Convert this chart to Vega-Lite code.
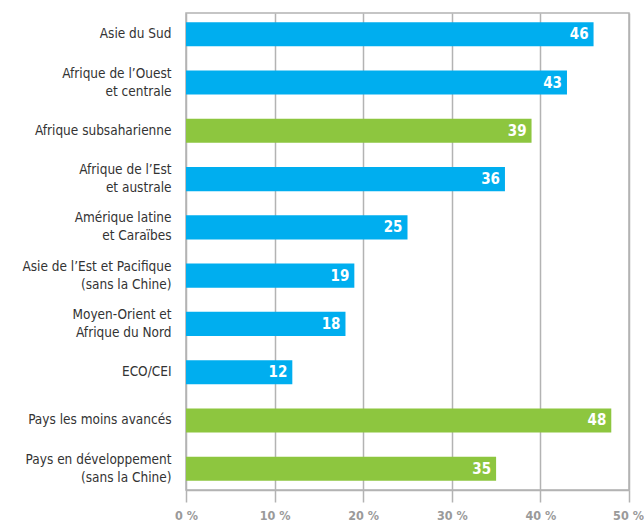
{
  "$schema": "https://vega.github.io/schema/vega-lite/v6.json",
  "autosize": {"type": "none"},
  "width": 443,
  "height": 477,
  "padding": {"left": 186, "top": 13, "right": 15, "bottom": 36},
  "background": "white",
  "config": {
    "view": {"stroke": "#b3b3b3", "strokeWidth": 1.5},
    "font": "DejaVu Sans Condensed"
  },
  "data": {
    "values": [
      {"region": "Asie du Sud", "value": 46, "group": "region"},
      {"region": "Afrique de l’Ouest|et centrale", "value": 43, "group": "region"},
      {"region": "Afrique subsaharienne", "value": 39, "group": "aggregate"},
      {"region": "Afrique de l’Est|et australe", "value": 36, "group": "region"},
      {"region": "Amérique latine|et Caraïbes", "value": 25, "group": "region"},
      {"region": "Asie de l’Est et Pacifique|(sans la Chine)", "value": 19, "group": "region"},
      {"region": "Moyen-Orient et|Afrique du Nord", "value": 18, "group": "region"},
      {"region": "ECO/CEI", "value": 12, "group": "region"},
      {"region": "Pays les moins avancés", "value": 48, "group": "aggregate"},
      {"region": "Pays en développement|(sans la Chine)", "value": 35, "group": "aggregate"}
    ]
  },
  "encoding": {
    "y": {
      "field": "region",
      "type": "nominal",
      "sort": null,
      "scale": {"paddingInner": 0.5, "paddingOuter": 0.19},
      "axis": {
        "title": null,
        "domain": false,
        "ticks": false,
        "labelExpr": "split(datum.label, '|')",
        "labelFont": "DejaVu Sans Condensed",
        "labelFontSize": 13.5,
        "labelColor": "#333333",
        "labelPadding": 15,
        "labelLineHeight": 18,
        "labelLimit": 200,
        "labelOffset": {"condition": {"test": "indexof(datum.value, '|') >= 0", "value": -9}, "value": 0}
      }
    },
    "x": {
      "field": "value",
      "type": "quantitative",
      "scale": {"domain": [0, 50], "nice": false},
      "axis": {
        "title": null,
        "values": [0, 10, 20, 30, 40, 50],
        "labelExpr": "datum.value + ' %'",
        "grid": true,
        "gridColor": "#b3b3b3",
        "gridWidth": 1.5,
        "domainColor": "#b3b3b3",
        "domainWidth": 1.5,
        "tickColor": "#b3b3b3",
        "tickWidth": 1.5,
        "tickSize": 12,
        "labelPadding": 7,
        "labelFont": "DejaVu Sans Condensed",
        "labelFontSize": 12.5,
        "labelFontWeight": "bold",
        "labelColor": "#9a9a9a",
        "labelFlush": false,
        "labelOffset": {"condition": {"test": "datum.value === 50", "value": -1}, "value": 0}
      }
    }
  },
  "layer": [
    {
      "mark": {"type": "bar"},
      "encoding": {
        "color": {
          "field": "group",
          "type": "nominal",
          "scale": {"domain": ["region", "aggregate"], "range": ["#00AEEF", "#8DC63F"]},
          "legend": null
        }
      }
    },
    {
      "mark": {"type": "text", "align": "right", "dx": -5, "color": "white", "fontWeight": "bold", "fontSize": 15, "font": "DejaVu Sans Condensed", "baseline": "middle"},
      "encoding": {"text": {"field": "value", "type": "quantitative"}}
    }
  ]
}
